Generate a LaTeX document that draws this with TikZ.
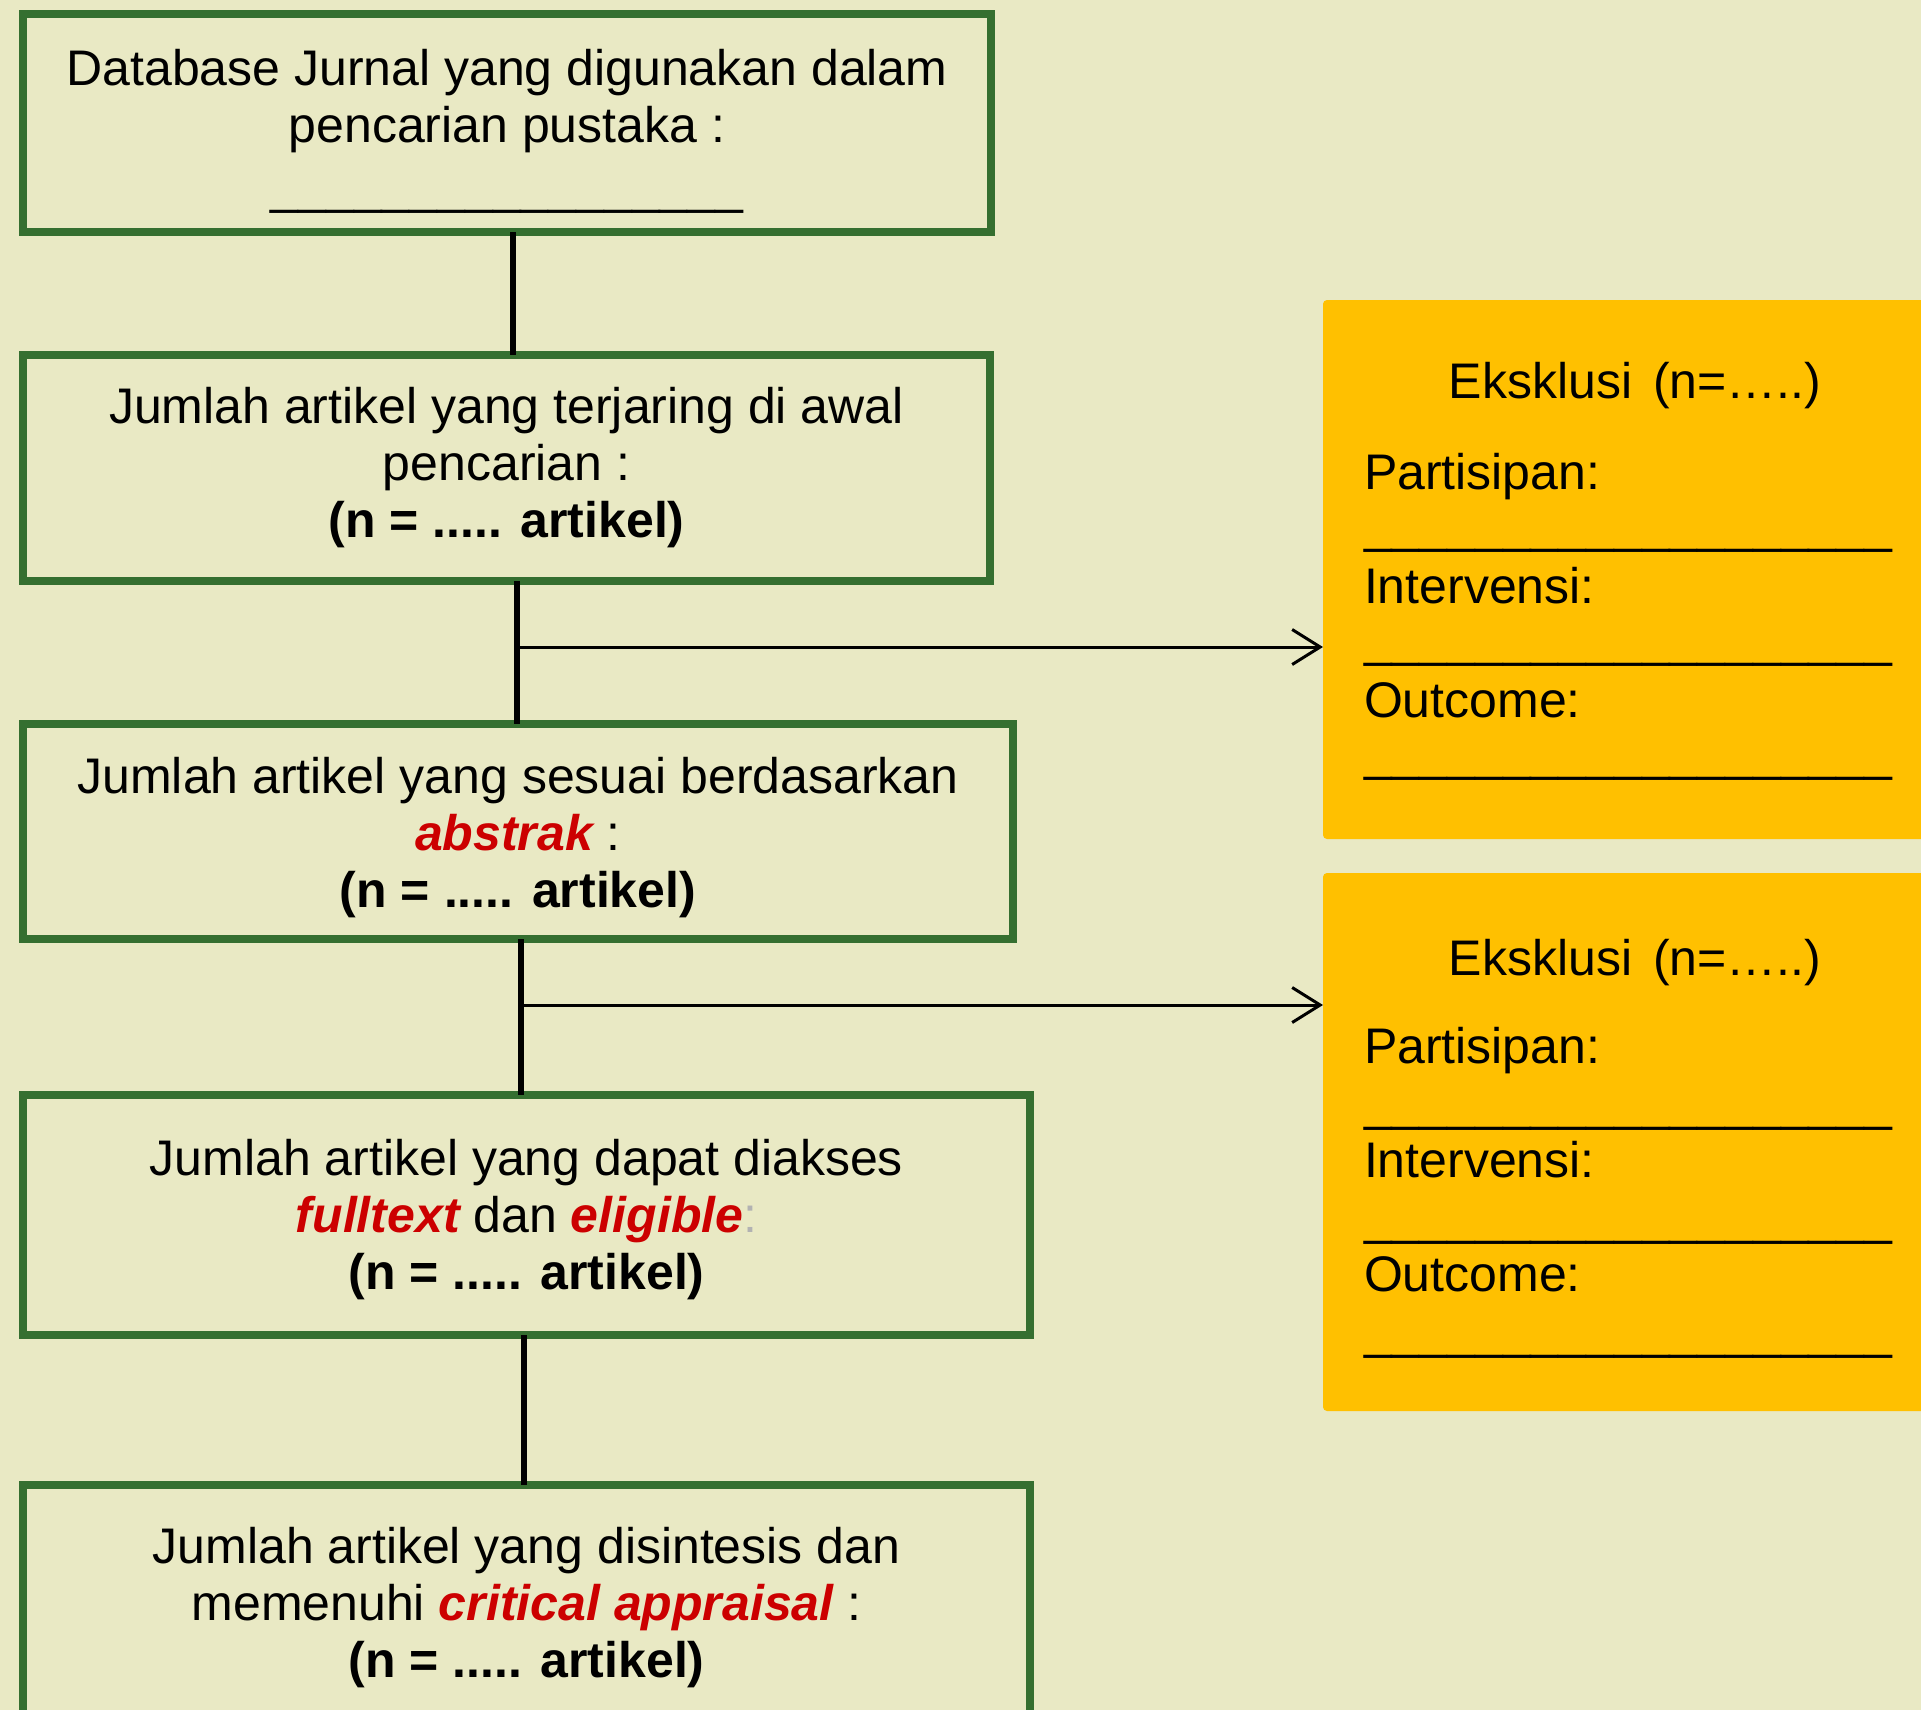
\documentclass[tikz,border=0pt]{standalone}
\usepackage{fontspec}
\setmainfont{Liberation Sans}
\usetikzlibrary{arrows.meta,calc}
\definecolor{bg}{HTML}{E9E9C4}
\definecolor{boxgreen}{HTML}{356F30}
\definecolor{exc}{HTML}{FFC000}
\definecolor{emred}{HTML}{CC0000}
\newcommand{\emr}[1]{\textcolor{emred}{\bfseries\itshape #1}}
\newcommand{\ulA}{\_\_\_\_\_\_\_\_\_\_\_\_\_\_\_\_\_}
\newcommand{\ulB}{\_\_\_\_\_\_\_\_\_\_\_\_\_\_\_\_\_\_\_}
\begin{document}
\begin{tikzpicture}[x=1bp,y=-1bp,
  every node/.style={inner sep=0pt, outer sep=0pt},
  flowbox/.style={draw=boxgreen, line width=8bp, rectangle},
  flowtext/.style={align=center, font=\fontsize{50bp}{57bp}\selectfont},
  exclbox/.style={fill=exc, rectangle, rounded corners=4bp, minimum width=614bp},
  excltext/.style={align=left, text width=532bp, font=\fontsize{50bp}{57bp}\selectfont},
  link/.style={line width=6bp, draw=black},
  side/.style={line width=3bp, draw=black,
    -{Straight Barb[length=28bp,width=35bp,line width=3bp]}}
]
\fill[bg] (0,0) rectangle (1921,1710);
\useasboundingbox (0,0) rectangle (1921,1710);

% flow boxes
\node[flowbox, minimum width=968bp,  minimum height=218bp] (b1) at (507,123) {};
\node[flowbox, minimum width=967bp,  minimum height=226bp] (b2) at (506.5,468) {};
\node[flowbox, minimum width=990bp,  minimum height=215bp] (b3) at (518,831.5) {};
\node[flowbox, minimum width=1007bp, minimum height=240bp] (b4) at (526.5,1215) {};
\node[flowbox, minimum width=1007bp, minimum height=244bp] (b5) at (526.5,1607) {};

\node[flowtext] (t1) at ($(b1.center)+(0,8)$)
  {Database Jurnal yang digunakan dalam\\pencarian pustaka :\\[4bp]\ulA};
\node[flowtext] (t2) at ($(b2.center)+(0,0)$)
  {Jumlah artikel yang terjaring di awal\\pencarian :\\\textbf{(n = ..... artikel)}};
\node[flowtext] (t3) at ($(b3.center)+(0,6)$)
  {Jumlah artikel yang sesuai berdasarkan\\\emr{abstrak} :\\\textbf{(n = ..... artikel)}};
\node[flowtext] (t4) at ($(b4.center)+(0,5)$)
  {Jumlah artikel yang dapat diakses\\\emr{fulltext} dan \emr{eligible}\textcolor{black!30}{:}\\\textbf{(n = ..... artikel)}};
\node[flowtext] (t5) at ($(b5.center)+(0,1)$)
  {Jumlah artikel yang disintesis dan\\memenuhi \emr{critical appraisal} :\\\textbf{(n = ..... artikel)}};

% exclusion boxes
\node[exclbox, minimum height=539bp] (e1) at (1630,569.5) {};
\node[exclbox, minimum height=538bp] (e2) at (1630,1142) {};

\node[excltext] (x1) at ($(e1.center)+(0,2)$)
  {\makebox[532bp][c]{\hspace{10bp}Eksklusi\hspace{21bp}(n=…..)}\\[34bp]
   Partisipan:\\[-4bp]\ulB\\[4bp]
   Intervensi:\\[-4bp]\ulB\\[4bp]
   Outcome:\\[-4bp]\ulB};
\node[excltext] (x2) at ($(e2.center)+(0,6.5)$)
  {\makebox[532bp][c]{\hspace{10bp}Eksklusi\hspace{21bp}(n=…..)}\\[31bp]
   Partisipan:\\\ulB\\
   Intervensi:\\\ulB\\
   Outcome:\\\ulB};

% connectors
\coordinate (c1) at (513,0);
\coordinate (j1) at (517,647);
\coordinate (j2) at (521,1005);
\coordinate (c4) at (524,0);

\draw[link] (b1.south -| c1) -- (b2.north -| c1);
\draw[link] (b2.south -| j1) -- (b3.north -| j1);
\draw[link] (b3.south -| j2) -- (b4.north -| j2);
\draw[link] (b4.south -| c4) -- (b5.north -| c4);
\draw[side] (j1) -- (j1 -| e1.west);
\draw[side] (j2) -- (j2 -| e2.west);
\end{tikzpicture}
\end{document}
